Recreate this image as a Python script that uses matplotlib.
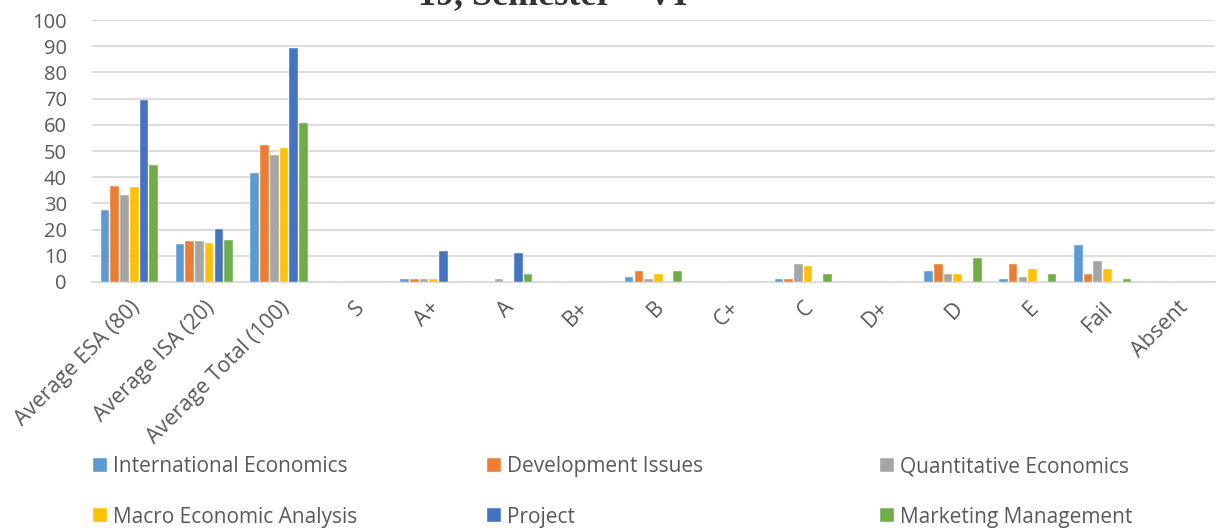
import numpy as np
import matplotlib
matplotlib.use("Agg")
import matplotlib.pyplot as plt

plt.rcParams['font.family'] = ['Open Sans', 'DejaVu Sans']

categories = ['Average ESA (80)', 'Average ISA (20)', 'Average Total (100)', 'S', 'A+', 'A',
              'B+', 'B', 'C+', 'C', 'D+', 'D', 'E', 'Fail', 'Absent']

international = [27.3, 14.5, 41.7, 0, 1, 0, 0, 2, 0, 1, 0, 4, 1, 14, 0]
development = [36.8, 15.8, 52.4, 0, 1, 0, 0, 4, 0, 1, 0, 7, 7, 3, 0]
quantitative = [33.2, 15.5, 48.6, 0, 1, 1, 0, 1, 0, 7, 0, 3, 2, 8, 0]
macro = [36.3, 14.8, 51.1, 0, 1, 0, 0, 3, 0, 6, 0, 3, 5, 5, 0]
project = [69.5, 20.1, 89.4, 0, 12, 11, 0, 0, 0, 0, 0, 0, 0, 0, 0]
marketing = [44.5, 16.2, 60.6, 0, 0, 3, 0, 4, 0, 3, 0, 9, 3, 1, 0]

series = [
    ('International Economics', international, '#5B9BD5'),
    ('Development Issues', development, '#ED7D31'),
    ('Quantitative Economics', quantitative, '#A5A5A5'),
    ('Macro Economic Analysis', macro, '#FFC000'),
    ('Project', project, '#4472C4'),
    ('Marketing Management', marketing, '#70AD47'),
]

fig = plt.figure(figsize=(12.18, 5.28), dpi=100)
ax = fig.add_axes([0.0755, 0.466, 0.922, 0.496])

x = np.arange(len(categories))
slot = 0.13
width = 0.115
bars = []
for i, (name, vals, color) in enumerate(series):
    b = ax.bar(x + (i - 2.5) * slot, vals, width, color=color, label=name,
               edgecolor='white', linewidth=0.3, zorder=3)
    bars.append(b)

ax.set_xlim(-0.5, len(categories) - 0.5)
ax.set_ylim(0, 100)
ax.set_yticks(range(0, 101, 10))
ax.yaxis.grid(True, color='#d9d9d9', linewidth=1.3, zorder=0)
for s in ['top', 'right', 'left']:
    ax.spines[s].set_visible(False)
ax.spines['bottom'].set_color('#d9d9d9')
ax.spines['bottom'].set_linewidth(1.3)
ax.tick_params(axis='both', length=0, labelcolor='#595959')
ax.tick_params(axis='y', labelsize=14.5, pad=18)
ax.set_xticks(x)
ax.set_xticklabels(categories, rotation=45, ha='right', rotation_mode='anchor')
ax.tick_params(axis='x', labelsize=15.5, pad=11)

fig.text(418 / 1218, 1 - 4 / 528, '19, Semester \u2013 VI', fontsize=26, fontweight='bold',
         family='Liberation Serif', color='#333333', va='baseline')

# legend: three columns, filled row by row like the original
col_x = [93, 487, 880]
for c in range(3):
    hs = [bars[c], bars[c + 3]]
    ls = [series[c][0], series[c + 3][0]]
    fig.legend(hs, ls, loc='center left', bbox_to_anchor=(col_x[c] / 1218, 1 - 492 / 528),
               frameon=False, fontsize=15, handlelength=0.68, handleheight=0.68,
               handletextpad=0.3, labelspacing=1.4, borderpad=0, borderaxespad=0,
               labelcolor='#595959')

fig.savefig('out.png', dpi=100)
